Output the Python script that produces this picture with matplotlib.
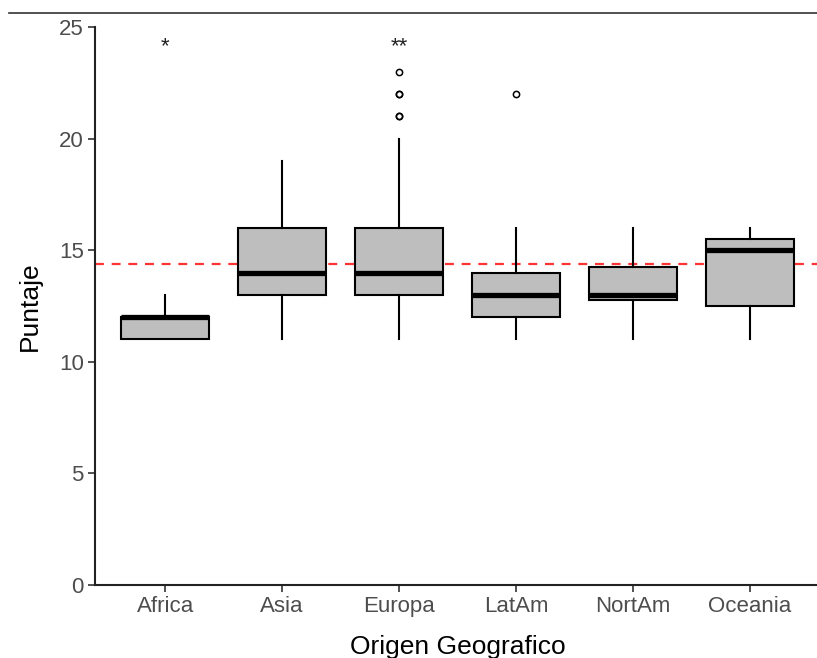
"""Boxplot of Puntaje by Origen Geografico (ggplot classic look)."""
import matplotlib

matplotlib.use("Agg")
import matplotlib.pyplot as plt
from matplotlib.lines import Line2D

plt.rcParams["font.family"] = ["Liberation Sans", "DejaVu Sans"]

# summary stats
regions = ["Africa", "Asia", "Europa", "LatAm", "NortAm", "Oceania"]
q1 = [11, 13, 13, 12, 12.75, 12.5]
median = [12, 14, 14, 13, 13, 15]
q3 = [12, 16, 16, 14, 14.25, 15.5]
whis_lo = [11, 11, 11, 11, 11, 11]
whis_hi = [13, 19, 20, 16, 16, 16]
outliers = [[], [], [21, 21, 22, 22, 23], [22], [], []]
mean_line = 14.4
signif = {"Africa": "*", "Europa": "**"}
signif_y = 24.1

GREY_TXT = "#4D4D4D"

stats = []
for i, name in enumerate(regions):
    stats.append(dict(label=name, q1=q1[i], med=median[i], q3=q3[i],
                      whislo=whis_lo[i], whishi=whis_hi[i], fliers=outliers[i]))

fig = plt.figure(figsize=(8.17, 6.58), dpi=100)
ax = fig.add_axes([95 / 817, 1 - 585 / 658, 725 / 817, 558 / 658])

pos = list(range(1, len(regions) + 1))
ax.bxp(stats, positions=pos, widths=0.75, patch_artist=True, showcaps=False,
       boxprops=dict(facecolor="#BEBEBE", edgecolor="black", linewidth=1.5),
       medianprops=dict(color="black", linewidth=3.8, solid_capstyle="butt"),
       whiskerprops=dict(color="black", linewidth=1.5),
       flierprops=dict(marker="o", markersize=4.5, markerfacecolor="none",
                       markeredgecolor="black", markeredgewidth=1.1))

ax.axhline(mean_line, color="#FF3333", linestyle=(0, (4, 3.5)), linewidth=1.6, zorder=1)

for name, mark in signif.items():
    ax.text(regions.index(name) + 1, signif_y, mark, ha="center", va="center",
            fontsize=16, color="#222222")

ax.set_xlim(0.4, 6.6)
ax.set_ylim(0, 25)
ax.set_yticks([0, 5, 10, 15, 20, 25])
ax.set_xticks(pos)
ax.set_xticklabels(regions)

for side in ("top", "right"):
    ax.spines[side].set_visible(False)
for side in ("left", "bottom"):
    ax.spines[side].set_linewidth(1.5)
    ax.spines[side].set_color("#222222")
ax.tick_params(axis="both", length=5, width=1.2, color="#333333",
               labelcolor=GREY_TXT, labelsize=16, pad=3)

ax.set_xlabel("Origen Geografico", fontsize=19, labelpad=13)
ax.set_ylabel("Puntaje", fontsize=19, labelpad=12)

# stray border line across the top of the image
fig.add_artist(Line2D([9 / 817, 1], [1 - 13 / 658, 1 - 13 / 658],
                      transform=fig.transFigure, color="#333333", linewidth=1.2))

fig.savefig("out.png", dpi=100, facecolor="white")
